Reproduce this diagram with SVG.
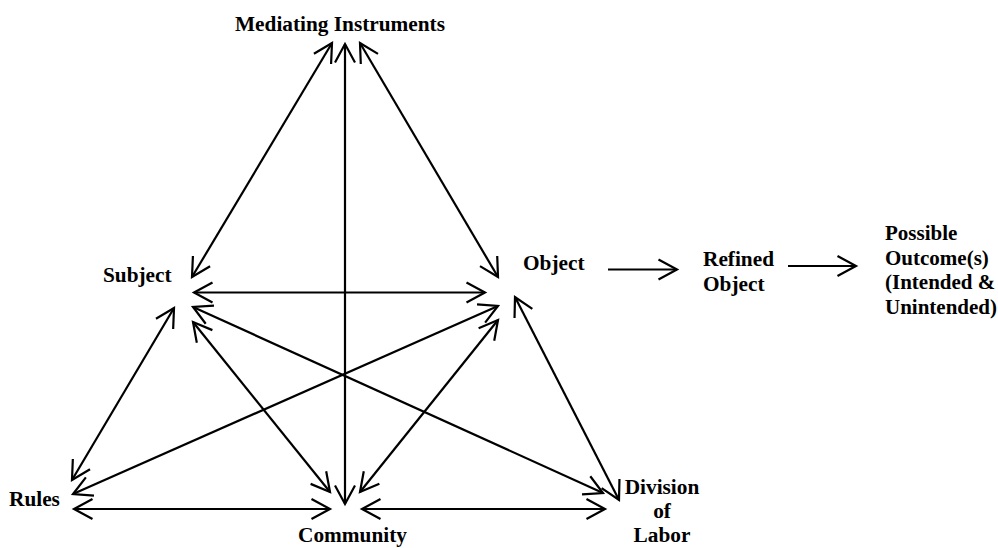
<svg xmlns="http://www.w3.org/2000/svg" width="998" height="548" viewBox="0 0 998 548">
  <style>
    .lbl { font-family: "Liberation Serif", "Times New Roman", serif; font-weight: bold; font-size: 21.3px; fill: #000; }
    .sm { font-size: 21px; }
    .c { fill: none; stroke: #000; stroke-width: 2.2; }
    .bi { marker-start: url(#ah); marker-end: url(#ah); }
    .uni { marker-end: url(#ah); }
  </style>
  <defs>
    <marker id="ah" markerUnits="userSpaceOnUse" markerWidth="24" markerHeight="24" viewBox="-22 -12 24 24" refX="0" refY="0" orient="auto-start-reverse" overflow="visible">
      <path d="M -18.5,-10 L 0,0 L -18.5,10" fill="none" stroke="#000" stroke-width="2.2" stroke-linejoin="miter"/>
    </marker>
  </defs>
  <rect width="998" height="548" fill="#fff"/>
  <g id="connectors">
    <line class="c bi" x1="332" y1="43" x2="192" y2="277"/>
    <line class="c bi" x1="345" y1="44" x2="345" y2="504"/>
    <line class="c bi" x1="360" y1="43" x2="498" y2="277"/>
    <line class="c bi" x1="194" y1="292.5" x2="485" y2="292.5"/>
    <line class="c bi" x1="193" y1="307" x2="603" y2="493"/>
    <line class="c bi" x1="193" y1="322" x2="330" y2="492"/>
    <line class="c bi" x1="72" y1="480" x2="174" y2="308"/>
    <line class="c bi" x1="73" y1="494" x2="498" y2="306"/>
    <line class="c bi" x1="498" y1="320" x2="360" y2="492"/>
    <line class="c bi" x1="515" y1="297" x2="619" y2="500"/>
    <line class="c bi" x1="74" y1="509" x2="330" y2="509"/>
    <line class="c bi" x1="362" y1="509" x2="605" y2="509"/>
    <line class="c uni" x1="608" y1="269.5" x2="677" y2="269.5"/>
    <line class="c uni" x1="788" y1="266" x2="856" y2="266"/>
  </g>
  <g id="mediating-instruments"><text class="lbl" x="340" y="30.5" text-anchor="middle">Mediating Instruments</text></g>
  <g id="subject"><text class="lbl" x="103" y="282">Subject</text></g>
  <g id="object"><text class="lbl" x="523" y="270">Object</text></g>
  <g id="refined-object">
    <text class="lbl" x="703" y="266">Refined</text>
    <text class="lbl" x="703" y="290.5">Object</text>
  </g>
  <g id="possible-outcomes">
    <text class="lbl sm" x="885" y="240">Possible</text>
    <text class="lbl sm" x="885" y="264.5">Outcome(s)</text>
    <text class="lbl sm" x="885" y="289">(Intended &amp;</text>
    <text class="lbl sm" x="885" y="313.5">Unintended)</text>
  </g>
  <g id="rules"><text class="lbl" x="9" y="506">Rules</text></g>
  <g id="community"><text class="lbl" x="352.5" y="542" text-anchor="middle">Community</text></g>
  <g id="division-of-labor">
    <text class="lbl" x="662" y="494" text-anchor="middle">Division</text>
    <text class="lbl" x="662" y="518" text-anchor="middle">of</text>
    <text class="lbl" x="662" y="542" text-anchor="middle">Labor</text>
  </g>
</svg>
